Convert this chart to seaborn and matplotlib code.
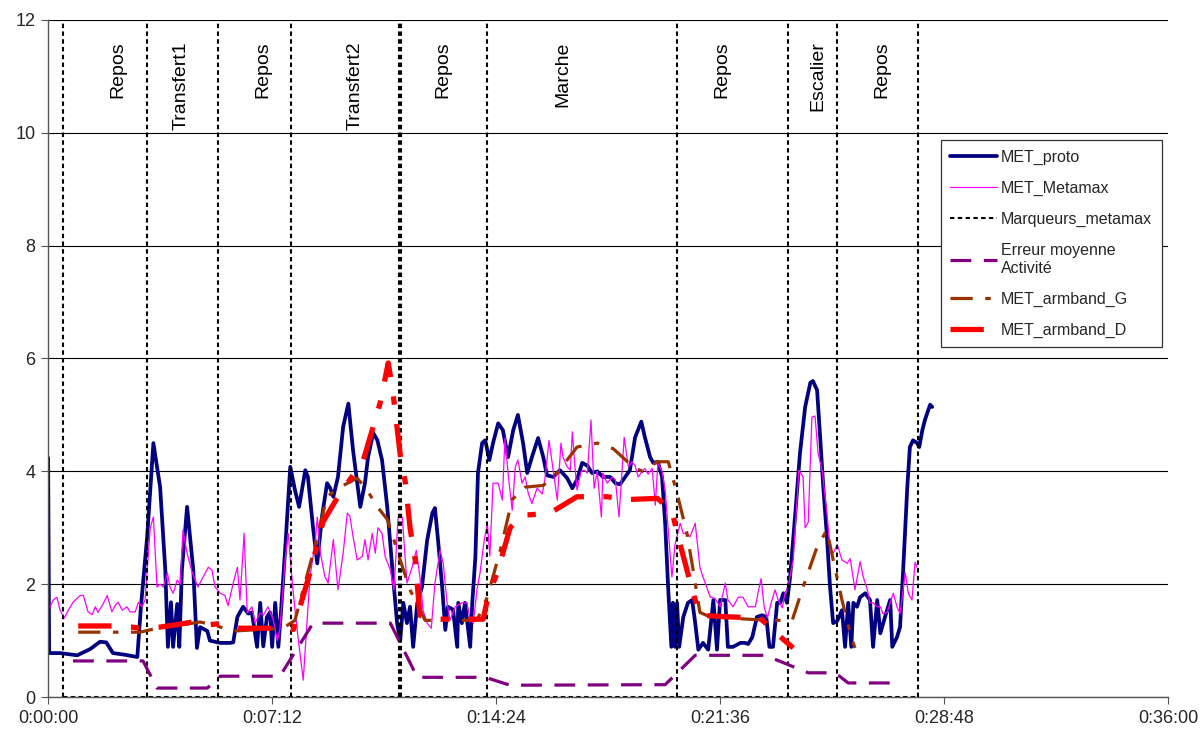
import numpy as np
import pandas as pd
import seaborn as sns
import matplotlib
matplotlib.use("Agg")
import matplotlib.pyplot as plt
from matplotlib.ticker import FuncFormatter, MultipleLocator

# time in seconds, values in MET
proto_t = [0, 2, 23, 56, 81, 100, 112, 125, 148, 172, 179, 191, 203, 216, 226, 231, 237, 241, 249, 253,
           258, 268, 280, 287, 293, 307, 312, 332, 351, 357, 365, 376, 386, 393, 403, 409, 415, 422, 428, 432,
           438, 444, 449, 457, 467, 476, 484, 496, 501, 511, 519, 528, 538, 544, 550, 559, 569, 579, 588, 602,
           611, 617, 627, 635, 644, 654, 663, 673, 679, 685, 692, 698, 704, 712, 721, 731, 741, 746, 752, 760,
           766, 771, 781, 789, 791, 798, 804, 814, 818, 824, 829, 837, 843, 851, 858, 868, 877, 887, 897, 906,
           916, 924, 933, 945, 955, 962, 974, 987, 1001, 1011, 1020, 1030, 1040, 1049, 1059, 1070, 1084, 1094,
           1103, 1113, 1122, 1132, 1144, 1151, 1161, 1167, 1176, 1184, 1190, 1196, 1202, 1205, 1209, 1213, 1217,
           1225, 1234, 1242, 1248, 1254, 1263, 1273, 1283, 1290, 1296, 1306, 1311, 1321, 1335, 1344, 1350, 1358,
           1367, 1377, 1385, 1391, 1398, 1406, 1412, 1418, 1425, 1431, 1441, 1450, 1460, 1470, 1475, 1483, 1489,
           1495, 1502, 1508, 1514, 1522, 1531, 1537, 1543, 1549, 1553, 1560, 1566, 1576, 1585, 1591, 1599, 1605,
           1614, 1624, 1628, 1637, 1643, 1649, 1657, 1662, 1668, 1676, 1680, 1686, 1691, 1701, 1705]
proto_v = [4.24, 0.78, 0.78, 0.74, 0.85, 0.98, 0.97, 0.78, 0.75, 0.71, 1.6, 2.84, 4.5, 3.72, 2.25, 0.89, 1.68, 0.89, 1.65, 0.89,
           2.25, 3.37, 2.25, 0.87, 1.24, 1.17, 1.0, 0.96, 0.96, 0.97, 1.42, 1.6, 1.48, 1.5, 0.89, 1.67, 0.9, 1.42, 1.5, 0.89,
           1.67, 0.89, 1.5, 2.6, 4.08, 3.67, 3.37, 4.02, 3.9, 3.0, 2.37, 3.19, 3.79, 3.7, 3.55, 3.9, 4.79, 5.2, 4.38, 3.37,
           3.79, 4.25, 4.68, 4.55, 4.2, 3.37, 2.37, 1.31, 1.0, 1.67, 1.31, 1.6, 0.89, 1.67, 1.95, 2.78, 3.26, 3.35, 2.78, 1.95,
           1.19, 1.6, 1.55, 0.89, 1.67, 1.31, 1.67, 0.89, 1.67, 2.48, 3.97, 4.5, 4.55, 4.2, 4.5, 4.85, 4.73, 4.25, 4.73, 5.0,
           4.5, 3.97, 4.25, 4.59, 4.25, 3.93, 3.9, 4.02, 3.88, 3.7, 3.85, 4.15, 4.1, 3.97, 4.0, 3.9, 3.9, 3.79,
           3.77, 3.9, 4.02, 4.6, 4.88, 4.6, 4.25, 4.15, 4.17, 3.9, 3.08, 1.9, 0.89, 1.67, 0.89, 1.67, 0.89,
           1.42, 1.67, 1.72, 1.31, 0.84, 0.96, 0.84, 1.72, 0.84, 1.72, 1.72, 0.89, 0.89, 0.96, 0.96, 0.94, 1.06,
           1.42, 1.45, 1.42, 0.89, 0.89, 1.67, 1.67, 1.84, 1.67, 2.13, 3.26, 4.32, 5.14, 5.57, 5.6, 5.44, 4.6,
           3.72, 2.84, 1.95, 1.31, 1.35, 1.54, 0.89, 1.67, 0.89, 1.67, 1.6, 1.77, 1.84, 1.72, 0.89, 1.72, 1.13,
           1.42, 1.72, 0.89, 1.06, 1.24, 2.25, 3.72, 4.43, 4.55, 4.5, 4.43, 4.73, 4.91, 5.18, 5.14]

metamax_t = [4, 10, 17, 23, 31, 39, 48, 62, 68, 77, 85, 91, 96, 106, 114, 123, 129, 135, 143, 152, 158, 168, 174,
             181, 187, 191, 197, 203, 210, 216, 222, 230, 235, 241, 249, 255, 260, 268, 278, 284, 289, 299, 309,
             316, 322, 332, 341, 347, 357, 365, 370, 378, 384, 393, 399, 409, 415, 424, 434, 442, 447, 457, 463,
             471, 476, 482, 492, 500, 505, 515, 519, 525, 534, 540, 550, 559, 569, 577, 582, 588, 596, 606, 611,
             617, 625, 631, 636, 644, 650, 660, 667, 675, 683, 692, 702, 710, 717, 723, 731, 739, 746, 756, 762,
             769, 775, 785, 798, 808, 814, 820, 827, 833, 841, 847, 852, 858, 868, 876, 881, 887, 895, 901, 906,
             914, 920, 926, 933, 943, 953, 958, 966, 974, 982, 989, 993, 1001, 1007, 1011, 1016, 1020, 1028, 1034,
             1040, 1047, 1053, 1059, 1067, 1070, 1078, 1088, 1094, 1101, 1111, 1119, 1126, 1132, 1138, 1146, 1151,
             1157, 1165, 1171, 1176, 1184, 1190, 1196, 1203, 1209, 1219, 1225, 1232, 1238, 1248, 1257, 1263, 1277,
             1286, 1296, 1306, 1311, 1321, 1331, 1340, 1350, 1364, 1369, 1375, 1381, 1387, 1396, 1402, 1408, 1416,
             1421, 1427, 1437, 1448, 1456, 1460, 1466, 1473, 1479, 1485, 1493, 1502, 1508, 1514, 1522, 1531, 1541,
             1547, 1556, 1566, 1572, 1580, 1585, 1591, 1599, 1605, 1610, 1618, 1624, 1630, 1637, 1643, 1653, 1659,
             1666, 1672, 1676]
metamax_v = [1.6, 1.72, 1.77, 1.54, 1.4, 1.54, 1.68, 1.8, 1.8, 1.51, 1.46, 1.6, 1.5, 1.65, 1.8, 1.51, 1.62, 1.68, 1.54, 1.6, 1.51, 1.51, 1.68,
             1.6, 1.72, 2.25, 3.0, 3.19, 1.95, 2.0, 1.95, 2.2, 1.95, 1.84, 2.07, 2.0, 2.96, 2.55, 2.2, 2.07, 1.95, 2.13, 2.3,
             2.25, 1.95, 1.84, 1.8, 1.62, 2.02, 2.3, 1.72, 2.9, 1.49, 1.6, 1.31, 1.49, 1.45, 1.6, 1.37, 1.0, 1.2, 2.43, 2.9,
             2.02, 1.55, 1.06, 0.3, 1.42, 2.13, 2.73, 3.19, 2.55, 2.13, 2.02, 2.79, 1.9, 2.55, 3.26, 3.2, 2.85, 2.43, 2.49, 2.79,
             2.43, 2.9, 2.55, 3.0, 2.9, 2.49, 2.25, 1.9, 3.19, 3.19, 2.02, 2.3, 2.6, 2.13, 1.54, 1.31, 1.22, 2.02, 2.6, 2.37,
             1.7, 1.36, 1.6, 1.67, 1.67, 1.36, 1.31, 1.9, 2.2, 2.78, 3.08, 2.5, 3.79, 3.79, 3.49, 4.59, 3.97, 3.31, 4.08, 4.2,
             3.79, 3.9, 3.61, 3.43, 3.7, 3.6, 3.85, 4.55, 4.02, 3.49, 4.5, 4.25, 4.08, 4.02, 4.7, 4.08, 3.67, 4.0, 4.02,
             3.97, 4.91, 3.7, 4.0, 3.19, 3.97, 3.79, 3.9, 3.85, 3.19, 4.6, 4.08, 4.17, 4.1, 3.9, 4.0, 4.05,
             3.95, 4.05, 3.4, 4.15, 4.0, 3.67, 2.96, 2.13, 2.7, 3.08, 2.9, 2.9, 2.84, 3.08, 2.3, 2.13, 1.77,
             1.75, 1.6, 2.02, 1.72, 1.6, 1.77, 1.77, 1.6, 1.6, 1.84, 2.1, 1.6, 1.4, 1.72, 1.9, 1.72, 1.58,
             1.84, 1.96, 2.43, 4.02, 3.9, 3.0, 3.1, 4.96, 4.98, 4.32, 4.0, 3.26, 2.66, 2.55, 2.7, 2.43, 2.37,
             2.45, 1.9, 2.4, 2.13, 1.9, 1.67, 1.67, 1.6, 1.6, 1.48, 1.5, 1.67, 1.84, 1.6, 1.48, 2.2, 1.84,
             1.72, 2.39, 2.3]

marker_times = [29, 191, 328, 469, 677, 680, 847, 1213, 1427, 1522, 1678]
marker_top = 12

erreur_t = [48, 183, 210, 307, 332, 447, 511, 660, 712, 843, 891, 1190, 1248, 1383, 1466, 1518, 1543, 1634]
erreur_v = [0.64, 0.64, 0.16, 0.16, 0.37, 0.37, 1.31, 1.31, 0.35, 0.35, 0.21, 0.22, 0.74, 0.74, 0.43, 0.43, 0.25, 0.25]

armband_g_t = [58, 177, 201, 293, 318, 357, 453, 476, 511, 538, 559, 596, 615, 635, 654, 665, 679, 698, 717, 727,
               827, 847, 872, 895, 920, 955, 982, 1020, 1059, 1090, 1128, 1146, 1175, 1196, 1213, 1232, 1244, 1257,
               1277, 1387, 1435, 1456, 1483, 1502, 1514, 1531, 1547, 1556]
armband_g_v = [1.15, 1.15, 1.2, 1.33, 1.28, 1.17, 1.22, 1.36, 2.55, 3.55, 3.7, 3.88, 3.67, 3.37, 3.15, 2.84, 2.43, 1.9, 1.55, 1.36,
               1.36, 1.77, 2.6, 3.5, 3.72, 3.75, 3.97, 4.43, 4.5, 4.4, 4.08, 4.0, 4.17, 4.17, 3.61, 2.9, 2.25, 1.5,
               1.42, 1.36, 1.36, 1.95, 2.66, 2.96, 2.43, 1.72, 1.13, 0.87]

armband_d_t = [58, 123, 162, 177, 216, 280, 307, 332, 370, 438, 473, 505, 530, 557, 608, 625, 640, 656, 665, 679,
               689, 698, 708, 717, 756, 839, 849, 866, 891, 914, 930, 968, 1020, 1078, 1117, 1175, 1203, 1215,
               1244, 1257, 1315, 1373, 1402, 1437]
armband_d_v = [1.26, 1.26, 1.24, 1.22, 1.24, 1.33, 1.28, 1.3, 1.22, 1.22, 1.2, 2.2, 3.1, 3.52, 4.2, 4.73, 5.2, 5.92, 5.4, 4.3,
               3.8, 3.0, 2.43, 1.45, 1.38, 1.38, 1.8, 2.2, 3.0, 3.23, 3.23, 3.26, 3.55, 3.55, 3.5, 3.52, 3.3, 2.84,
               1.84, 1.45, 1.42, 1.4, 1.15, 0.87]

activity_labels = ["Repos", "Transfert1", "Repos", "Transfert2", "Repos", "Marche", "Repos", "Escalier", "Repos"]
activity_label_t = [135, 256, 415, 592, 762, 993, 1300, 1485, 1608]

sns.set_theme(style="white")
plt.rcParams['font.family'] = ['Liberation Sans', 'DejaVu Sans']
plt.rcParams['lines.scale_dashes'] = False

fig = plt.figure(figsize=(12.03, 7.33), dpi=100)
ax = fig.add_axes([0.04, 0.049, 0.931, 0.924])

sns.lineplot(x=proto_t, y=proto_v, ax=ax, color="#000080", lw=2.7, sort=False, estimator=None,
             label="MET_proto")
sns.lineplot(x=metamax_t, y=metamax_v, ax=ax, color="#FF00FF", lw=0.9, sort=False, estimator=None,
             label="MET_Metamax")

# marker series: one vertical dashed stroke per marker + baseline along 0
mk_dash = (0, (3.2, 2.4))
mk_df = pd.DataFrame({
    "t": np.repeat(marker_times, 2),
    "v": np.tile([0, marker_top], len(marker_times)),
    "m": np.repeat(np.arange(len(marker_times)), 2),
})
sns.lineplot(data=mk_df, x="t", y="v", units="m", estimator=None, sort=False, ax=ax,
             color="black", lw=1.5, linestyle=mk_dash, legend=False)
sns.lineplot(x=[marker_times[0], marker_times[-1]], y=[0, 0], ax=ax, color="black", lw=1.5,
             sort=False, estimator=None, linestyle=mk_dash, label="Marqueurs_metamax")

sns.lineplot(x=erreur_t, y=erreur_v, ax=ax, color="#800080", lw=2.3, sort=False, estimator=None,
             linestyle=(0, (15, 9)), label="Erreur moyenne\nActivité")
sns.lineplot(x=armband_g_t, y=armband_g_v, ax=ax, color="#993300", lw=2.3, sort=False, estimator=None,
             linestyle=(0, (16, 9, 4, 9)), label="MET_armband_G")
sns.lineplot(x=armband_d_t, y=armband_d_v, ax=ax, color="#FF0000", lw=3.8, sort=False, estimator=None,
             linestyle=(0, (24, 14, 6, 14)), label="MET_armband_D")

for name, t in zip(activity_labels, activity_label_t):
    ax.text(t, 11.62, name, rotation=90, ha="center", va="top", fontsize=14, color="black")

ax.set_xlim(0, 2160)
ax.set_ylim(0, 12)
ax.xaxis.set_major_locator(MultipleLocator(432))
ax.yaxis.set_major_locator(MultipleLocator(2))


def fmt_time(s, pos):
    s = int(round(s))
    return "%d:%02d:%02d" % (s // 3600, (s % 3600) // 60, s % 60)


ax.xaxis.set_major_formatter(FuncFormatter(fmt_time))
ax.yaxis.grid(True, color="black", lw=0.8)
ax.xaxis.grid(False)
for side in ["top", "right"]:
    ax.spines[side].set_visible(False)
for side in ["left", "bottom"]:
    ax.spines[side].set_color("#555555")
    ax.spines[side].set_linewidth(1.0)
ax.tick_params(axis="both", direction="out", length=5, width=0.8, color="#555555",
               labelsize=13, pad=4, left=True, bottom=True)
ax.set_xlabel("")
ax.set_ylabel("")

leg = ax.legend(loc="upper left", bbox_to_anchor=(0.79, 0.834), fontsize=11.5, frameon=True,
                fancybox=False, edgecolor="#333333", framealpha=1, handlelength=2.9,
                labelspacing=1.0, borderpad=0.6, handletextpad=0.25)
leg.get_frame().set_linewidth(0.9)

fig.savefig("out.png", dpi=100)
